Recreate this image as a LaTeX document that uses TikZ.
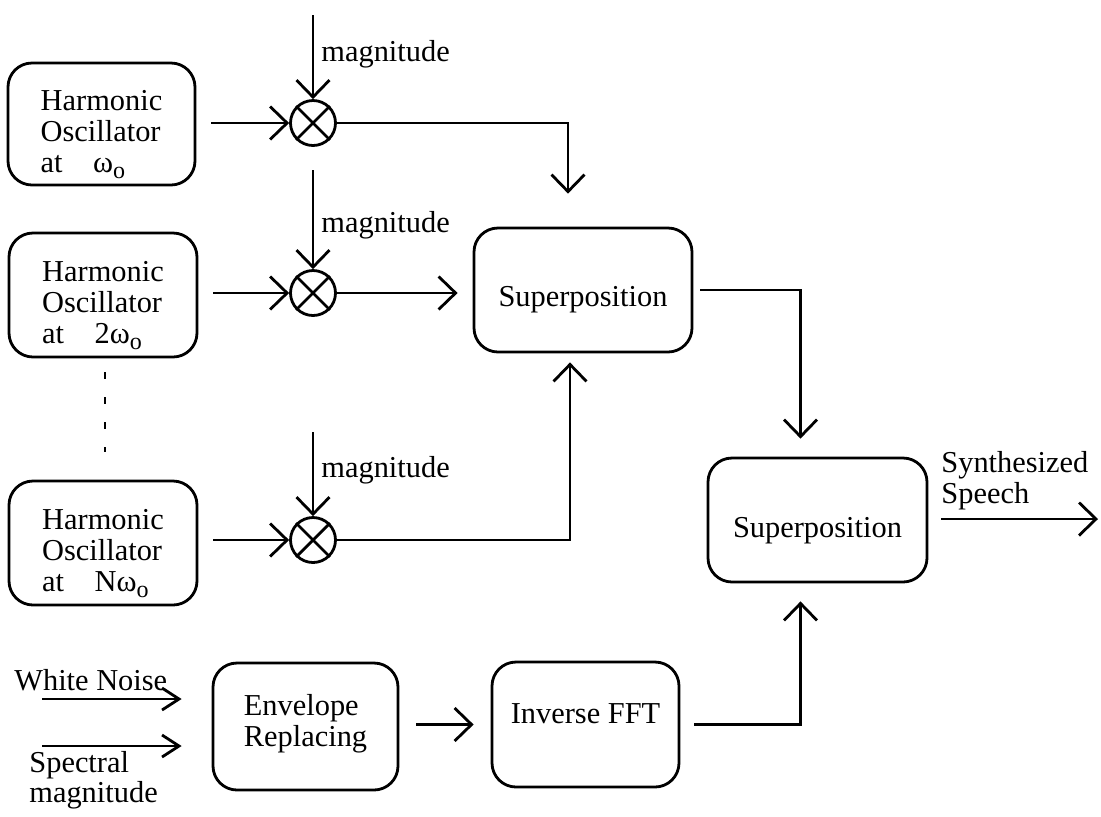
\documentclass[tikz,border=0pt]{standalone}
\usepackage{fontspec}
\setmainfont{Liberation Serif}
\usetikzlibrary{arrows.meta}
\newcommand{\wsub}[1]{#1ω\raisebox{-0.45ex}{\fontsize{12}{12}\selectfont o}}
% text shifted down (or up) without changing its declared size
\newcommand{\shifttext}[2]{\raisebox{#1}[\height][\depth]{\begin{tabular}{@{}l@{}}#2\end{tabular}}}
\begin{document}
\begin{tikzpicture}[x=0.5pt,y=-0.5pt,
  font=\fontsize{15.2}{15.5}\selectfont,
  line width=1.4pt,
  arr/.style={-{Straight Barb[length=8.5pt,width=16.5pt,line width=1.4pt]}},
  arrsmall/.style={-{Straight Barb[length=8.5pt,width=11pt,line width=1.4pt]}},
  block/.style={draw, rounded corners=12pt, align=left, inner sep=0pt},
  mult/.style={draw, circle, minimum size=22.5pt, inner sep=0pt},
  txt/.style={inner sep=0pt, align=left}]
\useasboundingbox (0,0) rectangle (1101,816);
\setlength{\tabcolsep}{0pt}

% oscillator blocks
\node[block, minimum width=93.5pt, minimum height=61pt] (h1) at (101.5,124)
  {\shifttext{-5.5pt}{Harmonic\\Oscillator\\at\quad \wsub{}}};
\node[block, minimum width=94pt, minimum height=62pt] (h2) at (103,295)
  {\shifttext{-5.5pt}{Harmonic\\Oscillator\\at\quad \wsub{2}}};
\node[block, minimum width=94pt, minimum height=62pt] (h3) at (103,543)
  {\shifttext{-5.5pt}{Harmonic\\Oscillator\\at\quad \wsub{N}}};

% dotted continuation between the oscillators
\coordinate (d1) at (105,372);
\coordinate (d2) at (105,452);
\draw[line width=1pt, dash pattern=on 3.5pt off 9pt] (d1) -- (d2);

% multipliers
\node[mult] (m1) at (313,123) {};
\node[mult] (m2) at (313,293) {};
\node[mult] (m3) at (313,540) {};
\foreach \m in {m1,m2,m3} {
  \draw (\m.45) -- (\m.225);
  \draw (\m.135) -- (\m.315);
}

% magnitude inputs
\coordinate (g1) at (313,15);
\coordinate (g2) at (313,170);
\coordinate (g3) at (313,432);
\draw[arr] (g1) -- (m1.north);
\draw[arr] (g2) -- (m2.north);
\draw[arr] (g3) -- (m3.north);
\node[txt, anchor=base west] (l1) at (320,61) {magnitude};
\node[txt, anchor=base west] (l2) at (320,232) {magnitude};
\node[txt, anchor=base west] (l3) at (320,477) {magnitude};

% oscillators into multipliers
\draw[arr, shorten <=7.5pt] (h1.east |- m1.west) -- (m1.west);
\draw[arr, shorten <=7.5pt] (h2.east |- m2.west) -- (m2.west);
\draw[arr, shorten <=7.5pt] (h3.east |- m3.west) -- (m3.west);

% superposition blocks
\node[block, minimum width=109pt, minimum height=62pt] (s1) at (583,290)
  {\shifttext{-5pt}{Superposition}};
\node[block, minimum width=109.5pt, minimum height=62pt] (s2) at (817.5,520)
  {\shifttext{-5.5pt}{Superposition}};

% multipliers into the first superposition
\draw[arr, shorten >=16.5pt] (m1.east) -| ([xshift=-7.5pt]s1.north);
\draw[arr, shorten >=7.5pt] (m2.east) -- (m2.east -| s1.west);
\draw[arr, shorten >=4.5pt] (m3.east) -| ([xshift=-6.5pt]s1.south);

% noise branch
\node[block, minimum width=92.5pt, minimum height=63.5pt] (env) at (305.5,726.5)
  {\shifttext{1pt}{Envelope\\Replacing}};
\node[block, minimum width=93.5pt, minimum height=62.5pt] (ifft) at (585.5,724.5)
  {\shifttext{3.5pt}{Inverse FFT}};

\coordinate (wn) at (42,699);
\coordinate (sm) at (42,746);
\draw[arrsmall, shorten >=15pt] (wn) -- (wn -| env.west);
\draw[arrsmall, shorten >=15pt] (sm) -- (sm -| env.west);
\node[txt, anchor=base west] (wnl) at (13,690) {White Noise};
\node[txt, anchor=base west, font=\fontsize{15.2}{12.5}\selectfont] (sml) at (28,802) {Spectral\\magnitude};

\draw[arr, shorten <=8.5pt, shorten >=8.5pt] (env.east |- ifft.west) -- (ifft.west);

% into the final superposition
\draw[arr, shorten <=3.5pt, shorten >=9pt] (s1.east) -| ([xshift=-8.5pt]s2.north);
\draw[arr, shorten <=7pt, shorten >=9pt] (ifft.east) -| ([xshift=-8.5pt]s2.south);

% output
\coordinate (out) at (1098,519);
\draw[arr, shorten <=6.5pt] (s2.east |- out) -- (out);
\node[txt, anchor=west] (outl) at (940,481) {Synthesized\\Speech};
\end{tikzpicture}
\end{document}
